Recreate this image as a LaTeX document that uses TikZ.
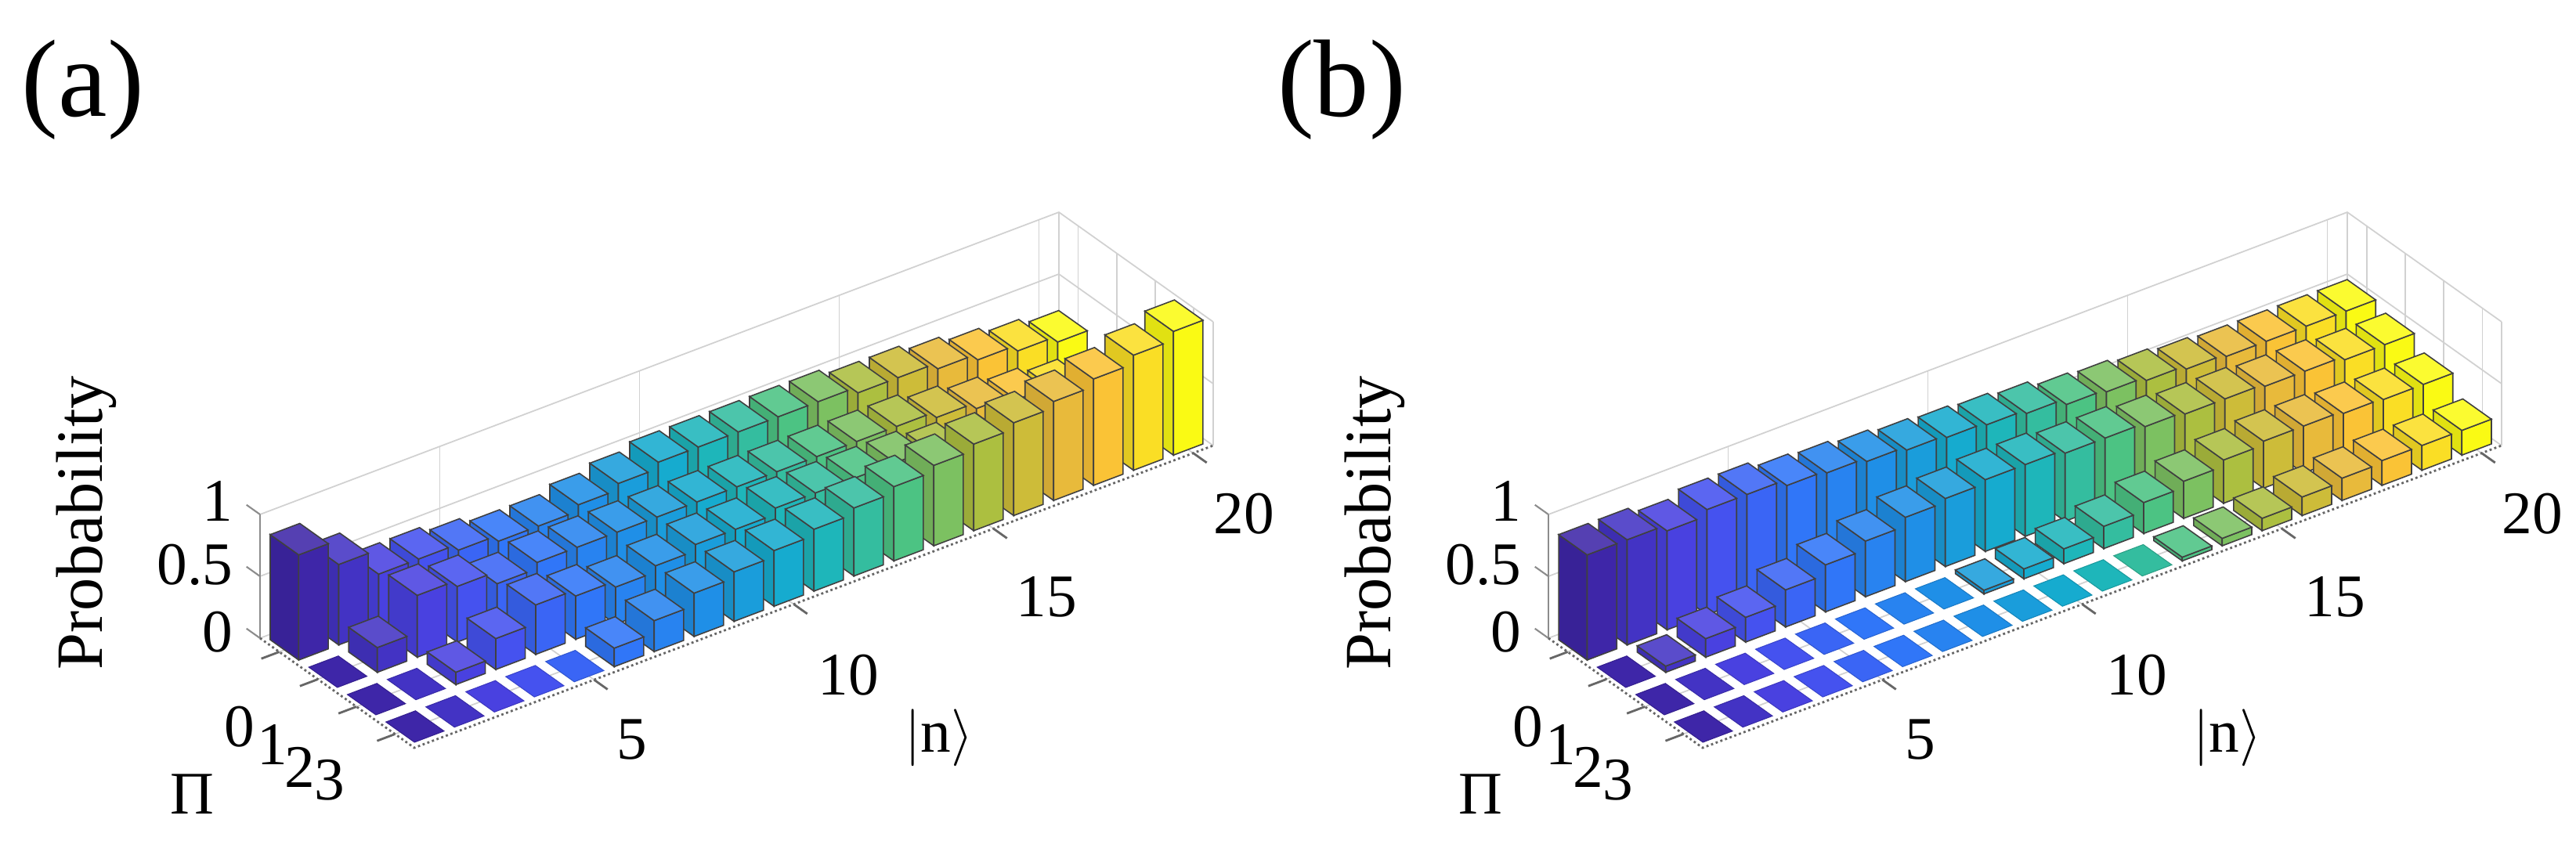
\documentclass[tikz,border=0pt]{standalone}
\usepackage{fontspec}
\setmainfont{Liberation Serif}
\definecolor{par0}{RGB}{62,38,168}
\definecolor{par1}{RGB}{75,70,235}
\definecolor{par2}{RGB}{50,115,250}
\definecolor{par3}{RGB}{30,145,230}
\definecolor{par4}{RGB}{20,178,200}
\definecolor{par5}{RGB}{70,195,135}
\definecolor{par6}{RGB}{185,190,55}
\definecolor{par7}{RGB}{250,185,60}
\definecolor{par8}{RGB}{250,250,20}
\definecolor{par9}{RGB}{250,250,20}
\tikzset{
  gridln/.style={draw=black!18, line width=0.5pt},
  axisln/.style={draw=black!60, line width=0.8pt, densely dotted},
  zaxis/.style={draw=black!45, line width=0.6pt},
  tickln/.style={draw=black!60, line width=0.8pt},
  lbl/.style={font=\fontsize{22}{24}\selectfont, inner sep=0pt},
  ttl/.style={font=\fontsize{40}{44}\selectfont, inner sep=0pt},
  baredge/.style={draw=black!75, line width=0.45pt}
}
\def\aRa{{0.85,0.65,0.45,0.45,0.40,0.35,0.35,0.40,0.45,0.50,0.50,0.50,0.50,0.50,0.45,0.45,0.40,0.35,0.30,0.25}}
\def\aRb{{0,0.20,0.50,0.45,0.35,0.40,0.40,0.40,0.40,0.40,0.40,0.40,0.40,0.40,0.40,0.35,0.30,0.25,0.20,0.15}}
\def\aRc{{0,0,0.10,0.25,0.40,0.35,0.30,0.35,0.40,0.40,0.45,0.45,0.45,0.45,0.40,0.35,0.30,0.25,0.20,0.15}}
\def\aRd{{0,0,0,0,0,0.15,0.25,0.35,0.40,0.45,0.50,0.55,0.60,0.65,0.70,0.75,0.80,0.86,0.93,1.0}}
\def\bRa{{0.85,0.85,0.80,0.85,0.85,0.80,0.78,0.75,0.72,0.70,0.68,0.65,0.60,0.58,0.55,0.52,0.50,0.50,0.50,0.50}}
\def\bRb{{0,0.05,0.15,0.20,0.30,0.38,0.45,0.52,0.55,0.58,0.58,0.55,0.55,0.52,0.50,0.50,0.48,0.48,0.45,0.45}}
\def\bRc{{0,0,0,0,0,0,0,0,0.03,0.08,0.12,0.18,0.25,0.30,0.35,0.38,0.38,0.36,0.35,0.35}}
\def\bRd{{0,0,0,0,0,0,0,0,0,0,0,0,0.03,0.06,0.10,0.15,0.18,0.20,0.20,0.20}}
\newcommand\drawbar[3]{%
  \pgfmathsetmacro\ha{#3}%
  \ifdim\ha pt<0.005pt
    \filldraw[fill=cur, draw=cur!85!black, line width=0.3pt] (#1-0.37,#2-0.37,0)--(#1+0.37,#2-0.37,0)--(#1+0.37,#2+0.37,0)--(#1-0.37,#2+0.37,0)--cycle;
  \else
    \filldraw[fill=cur!90!black, baredge] (#1-0.37,#2-0.37,0)--(#1-0.37,#2+0.37,0)--(#1-0.37,#2+0.37,\ha)--(#1-0.37,#2-0.37,\ha)--cycle;
    \filldraw[fill=cur, baredge] (#1-0.37,#2+0.37,0)--(#1+0.37,#2+0.37,0)--(#1+0.37,#2+0.37,\ha)--(#1-0.37,#2+0.37,\ha)--cycle;
    \filldraw[fill=cur!88!white, baredge] (#1-0.37,#2-0.37,\ha)--(#1+0.37,#2-0.37,\ha)--(#1+0.37,#2+0.37,\ha)--(#1-0.37,#2+0.37,\ha)--cycle;
  \fi}
\newcommand\drawpanel[5]{%
  \begin{scope}[shift={(#5cm,2.3985cm)}, x={(0.51cm,0.193cm)}, y={(0.4925cm,-0.35cm)}, z={(0cm,1.58cm)}]
    \foreach \zz in {0.5,1} {\draw[gridln] (0.5,-0.5,\zz)--(20.5,-0.5,\zz)--(20.5,3.5,\zz);}
    \foreach \nn in {5,10,15,20} {\draw[gridln] (\nn,-0.5,0)--(\nn,-0.5,1); \draw[gridln] (\nn,-0.5,0)--(\nn,3.5,0);}
    \foreach \pp in {0,1,2,3,3.5} {\draw[gridln] (20.5,\pp,0)--(20.5,\pp,1);}
    \foreach \pp in {0,1,2,3} {\draw[gridln] (0.5,\pp,0)--(20.5,\pp,0);}
    \draw[gridln] (0.5,-0.5,0)--(20.5,-0.5,0)--(20.5,3.5,0);
    \draw[gridln] (20.5,-0.5,0)--(20.5,-0.5,1);
    \draw[zaxis] (0.5,-0.5,0)--(0.5,-0.5,1);
    \foreach \zz in {0,0.5,1} {\draw[zaxis] (0.5,-0.5,\zz)--(0.5,-0.85,\zz);}
    \draw[axisln] (0.5,-0.5,0)--(0.5,3.5,0)--(20.5,3.5,0);
    \foreach \nn in {5,10,15,20} {\draw[tickln] (\nn,3.5,0)--(\nn,3.85,0);}
    \foreach \pp in {0,1,2,3} {\draw[tickln] (0.5,\pp,0)--(0.05,\pp,0);}
    \foreach \n in {20,19,...,1} {
      \pgfmathsetmacro\t{(\n-1)/19*8}
      \pgfmathtruncatemacro\k{floor(\t)}
      \pgfmathtruncatemacro\kk{\k+1}
      \pgfmathtruncatemacro\pc{(\t-\k)*100}
      \colorlet{cur}{par\kk!\pc!par\k}
      \foreach \p in {0,1,2,3} {
        \ifcase\p
          \pgfmathsetmacro\hh{#1[\n-1]}\or
          \pgfmathsetmacro\hh{#2[\n-1]}\or
          \pgfmathsetmacro\hh{#3[\n-1]}\or
          \pgfmathsetmacro\hh{#4[\n-1]}\fi
        \drawbar{\n}{\p}{\hh}
      }
    }
  \end{scope}}
\newcommand\panellabels[2]{%
  \begin{scope}[shift={(#1cm,10.82cm)}, x=0.01cm, y=-0.01cm]
    \node[lbl, anchor=east] (z1#2) at (298,640) {1};
    \node[lbl, anchor=east] (z5#2) at (298,722) {0.5};
    \node[lbl, anchor=east] (z0#2) at (298,808) {0};
    \node[lbl] (p0#2) at (306,929) {0};
    \node[lbl] (p1#2) at (348,952) {1};
    \node[lbl] (p2#2) at (383,980) {2};
    \node[lbl] (p3#2) at (421,997) {3};
    \node[lbl] (pi#2) at (246,1015) {Π};
    \node[lbl, font=\fontsize{24}{26}\selectfont, rotate=90] (pr#2) at (110,668) {Probability};
    \node[lbl] (n5#2) at (807,945) {5};
    \node[lbl] (n10#2) at (1084,863) {10};
    \node[lbl] (n15#2) at (1337,763) {15};
    \node[lbl] (n20#2) at (1589,657) {20};
    \node[lbl] (nk#2) at (1200,943) {$|\mathrm{n}\rangle$};
  \end{scope}}
\begin{document}
\begin{tikzpicture}
\useasboundingbox (0,0) rectangle (32.89,10.82);
\drawpanel{\aRa}{\aRb}{\aRc}{\aRd}{3.311}
\drawpanel{\bRa}{\bRb}{\bRc}{\bRd}{19.761}
\panellabels{0}{a}
\panellabels{16.45}{b}
\node[ttl] (ta) at (1.06,9.67) {(a)};
\node[ttl] (tb) at (17.13,9.67) {(b)};
\end{tikzpicture}
\end{document}
